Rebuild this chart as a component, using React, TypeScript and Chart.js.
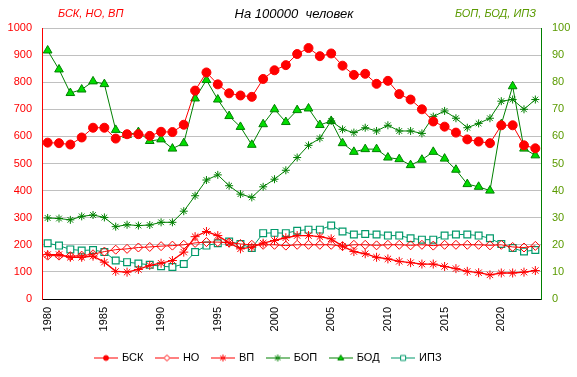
import React, { useEffect, useRef } from 'react';
import { Chart, registerables } from 'chart.js';

Chart.register(...registerables);

const years = [
  '1980', '1981', '1982', '1983', '1984', '1985', '1986', '1987', '1988', '1989',
  '1990', '1991', '1992', '1993', '1994', '1995', '1996', '1997', '1998', '1999',
  '2000', '2001', '2002', '2003', '2004', '2005', '2006', '2007', '2008', '2009',
  '2010', '2011', '2012', '2013', '2014', '2015', '2016', '2017', '2018', '2019',
  '2020', '2021', '2022', '2023',
];

// left axis (per 100000)
const bsk = [
  577, 575, 570, 596, 632, 632, 592, 608, 608, 602,
  617, 616, 643, 769, 836, 792, 759, 751, 746, 812,
  844, 863, 904, 926, 896, 906, 861, 827, 831, 794,
  805, 756, 736, 700, 655, 636, 614, 589, 581, 575,
  641, 641, 567, 556,
];
const no = [
  160, 160, 158, 160, 165, 175, 182, 185, 190, 192,
  195, 197, 200, 207, 210, 210, 208, 203, 200, 200,
  200, 197, 200, 200, 200, 200, 195, 200, 200, 198,
  200, 200, 198, 200, 197, 200, 200, 200, 200, 198,
  200, 192, 190, 196,
];
const vp = [
  164, 164, 154, 154, 158, 136, 102, 99, 109, 124,
  132, 142, 173, 230, 249, 234, 207, 185, 191, 206,
  216, 226, 234, 234, 230, 222, 195, 175, 167, 154,
  148, 139, 134, 129, 129, 120, 112, 102, 97, 89,
  96, 96, 99, 105,
];
// right axis
const bop = [
  29.9, 29.7, 29.2, 30.5, 31, 30.1, 26.7, 27.4, 27.1, 27.3,
  28.3, 28.3, 32.4, 38.1, 43.9, 45.8, 41.8, 38.7, 37.5, 41.4,
  44.2, 47.5, 52.2, 56.7, 59.3, 65.7, 62.6, 61.4, 63.2, 62,
  64.1, 62, 62, 61.1, 67.3, 69.4, 66.7, 63.2, 64.8, 66.7,
  73, 73.6, 70, 73.6,
];
const bod = [
  91.7, 84.7, 76, 77.3, 80.3, 79.3, 62.4, 60.5, 61.6, 58.3,
  58.9, 55.5, 57.5, 74, 80.8, 73.6, 67.5, 63.5, 56.9, 64.5,
  70, 65.3, 69.7, 70.3, 64.2, 65.7, 57.5, 54.3, 55.3, 55.3,
  52.2, 51.6, 49.4, 51.4, 54.3, 51.8, 47.7, 42.4, 41.4, 40,
  64.5, 78.5, 55.5, 53,
];
const ipz = [
  20.6, 19.7, 18.3, 17.9, 18.1, 17.3, 14.2, 13.6, 13.1, 12.6,
  12.1, 11.8, 12.9, 17.3, 19.7, 20.6, 21.2, 20.3, 18.8, 24.3,
  24.4, 24.3, 25.2, 25.6, 25.6, 27.1, 24.9, 23.8, 24, 23.8,
  23.4, 23.4, 22.4, 21.9, 21.9, 23.4, 23.8, 23.8, 23.4, 22.4,
  20.3, 18.8, 17.5, 18.1,
];

const titleText = 'На 100000  человек';
const leftTitle = 'БСК, НО, ВП';
const rightTitle = 'БОП, БОД, ИПЗ';

const RED = '#ff0000';
const GREEN = '#008000';
const TRI_FILL = '#00dd00';
const TEAL = '#00996a';
const RIGHT_TXT = '#5a9a00';
const FONT = "'Liberation Sans', Arial, sans-serif";

function makeIcon(color: string, kind: string, fill: string): HTMLCanvasElement {
  const c = document.createElement('canvas');
  c.width = 24;
  c.height = 12;
  const g = c.getContext('2d')!;
  g.strokeStyle = color;
  g.lineWidth = 1;
  g.beginPath();
  g.moveTo(0, 6.5);
  g.lineTo(24, 6.5);
  g.stroke();
  const x = 12, y = 6.5;
  g.fillStyle = fill;
  g.beginPath();
  if (kind === 'circle') {
    g.arc(x, y, 2.5, 0, Math.PI * 2);
    g.fill();
    g.stroke();
  } else if (kind === 'diamond') {
    g.moveTo(x, y - 3); g.lineTo(x + 3, y); g.lineTo(x, y + 3); g.lineTo(x - 3, y); g.closePath();
    g.fill();
    g.stroke();
  } else if (kind === 'star') {
    const r = 3.5;
    g.moveTo(x, y - r); g.lineTo(x, y + r);
    g.moveTo(x - r * 0.8, y - r * 0.6); g.lineTo(x + r * 0.8, y + r * 0.6);
    g.moveTo(x - r * 0.8, y + r * 0.6); g.lineTo(x + r * 0.8, y - r * 0.6);
    g.stroke();
  } else if (kind === 'triangle') {
    g.moveTo(x, y - 3); g.lineTo(x + 3, y + 2); g.lineTo(x - 3, y + 2); g.closePath();
    g.fill();
    g.stroke();
  } else if (kind === 'square') {
    g.rect(x - 2.5, y - 2.5, 5, 5);
    g.fill();
    g.stroke();
  }
  return c;
}

const titlesPlugin = {
  id: 'sideTitles',
  afterLayout(chart: any) {
    const lg = chart.legend;
    if (lg) {
      lg.left -= 20;
      lg.right -= 20;
    }
  },
  afterDraw(chart: any) {
    const ctx = chart.ctx as CanvasRenderingContext2D;
    ctx.save();
    ctx.textBaseline = 'middle';
    ctx.font = `italic 13px ${FONT}`;
    ctx.fillStyle = '#000';
    ctx.textAlign = 'center';
    ctx.fillText(titleText, 294, 14);
    ctx.font = `italic 11px ${FONT}`;
    ctx.fillStyle = RED;
    ctx.textAlign = 'left';
    ctx.fillText(leftTitle, 58, 14);
    ctx.fillStyle = RIGHT_TXT;
    ctx.textAlign = 'right';
    ctx.fillText(rightTitle, 536, 14);
    ctx.restore();
  },
};

export default function App() {
  const ref = useRef<HTMLCanvasElement>(null);
  useEffect(() => {
    document.body.style.margin = '0';
    const icons = [
      makeIcon(RED, 'circle', RED),
      makeIcon(RED, 'diamond', '#fff'),
      makeIcon(RED, 'star', RED),
      makeIcon(GREEN, 'star', GREEN),
      makeIcon(GREEN, 'triangle', TRI_FILL),
      makeIcon(TEAL, 'square', '#fff'),
    ];
    const chart = new Chart(ref.current!, {
      type: 'line',
      data: {
        labels: years,
        datasets: [
          {
            label: 'БСК', data: bsk, yAxisID: 'y', borderColor: RED, backgroundColor: RED,
            borderWidth: 1, pointStyle: 'circle', pointRadius: 4.5, pointBackgroundColor: RED,
            pointBorderColor: RED, pointBorderWidth: 1,
          },
          {
            label: 'НО', data: no, yAxisID: 'y', borderColor: RED, backgroundColor: RED,
            borderWidth: 1, pointStyle: 'rectRot', pointRadius: 4.5, pointBackgroundColor: 'rgba(255,255,255,0)',
            pointBorderColor: RED, pointBorderWidth: 1,
          },
          {
            label: 'ВП', data: vp, yAxisID: 'y', borderColor: RED, backgroundColor: RED,
            borderWidth: 1.3, pointStyle: 'star', pointRadius: 4.5,
            pointBorderColor: RED, pointBorderWidth: 1,
          },
          {
            label: 'БОП', data: bop, yAxisID: 'y1', borderColor: GREEN, backgroundColor: GREEN,
            borderWidth: 1, pointStyle: 'star', pointRadius: 4,
            pointBorderColor: GREEN, pointBorderWidth: 1,
          },
          {
            label: 'БОД', data: bod, yAxisID: 'y1', borderColor: GREEN, backgroundColor: TRI_FILL,
            borderWidth: 1, pointStyle: 'triangle', pointRadius: 5, pointBackgroundColor: TRI_FILL,
            pointBorderColor: GREEN, pointBorderWidth: 1,
          },
          {
            label: 'ИПЗ', data: ipz, yAxisID: 'y1', borderColor: TEAL, backgroundColor: '#fff',
            borderWidth: 1, pointStyle: 'rect', pointRadius: 4.8, pointBackgroundColor: '#fff',
            pointBorderColor: TEAL, pointBorderWidth: 1.2,
          },
        ],
      },
      options: {
        responsive: false,
        animation: false,
        devicePixelRatio: 1,
        layout: { padding: { top: 28, bottom: 4, left: 0, right: 0 } },
        elements: { line: { tension: 0 } },
        plugins: {
          title: { display: false },
          tooltip: { enabled: false },
          legend: {
            display: true,
            position: 'bottom',
            labels: {
              usePointStyle: true,
              pointStyleWidth: 21,
              padding: 13,
              color: '#000',
              font: { family: FONT, size: 11 },
              generateLabels: (ch: any) =>
                ch.data.datasets.map((ds: any, i: number) => ({
                  text: ds.label,
                  pointStyle: icons[i],
                  fillStyle: ds.borderColor,
                  strokeStyle: ds.borderColor,
                  lineWidth: 0,
                  hidden: false,
                  datasetIndex: i,
                  fontColor: '#000',
                })),
            },
          },
        },
        scales: {
          x: {
            type: 'category',
            offset: true,
            grid: { display: false, drawTicks: false },
            border: { display: true, color: '#000', width: 1 },
            ticks: {
              autoSkip: false,
              minRotation: 90,
              maxRotation: 90,
              padding: 8,
              color: '#000',
              font: { family: FONT, size: 11 },
              callback: function (_v: any, i: number) {
                const y = years[i];
                return Number(y) % 5 === 0 ? y : '';
              },
            },
            afterFit: (s: any) => { s.height = 40; },
          },
          y: {
            position: 'left',
            min: 0,
            max: 1000,
            grid: { color: '#c0c0c0', drawTicks: false, lineWidth: 1 },
            border: { display: true, color: RED, width: 1 },
            ticks: {
              stepSize: 100, padding: 10, color: RED, font: { family: FONT, size: 11 },
              callback: (v: any) => String(v),
            },
            afterFit: (s: any) => { s.width = 42; },
          },
          y1: {
            position: 'right',
            min: 0,
            max: 100,
            grid: { drawOnChartArea: false, drawTicks: false },
            border: { display: true, color: GREEN, width: 1 },
            ticks: {
              stepSize: 10, padding: 11, color: RIGHT_TXT, font: { family: FONT, size: 11 },
              callback: (v: any) => String(v),
            },
            afterFit: (s: any) => { s.width = 36; },
          },
        },
      },
      plugins: [titlesPlugin],
    } as any);
    return () => chart.destroy();
  }, []);
  return (
    <div style={{ width: 577, height: 377 }}>
      <canvas ref={ref} width={577} height={377} style={{ display: 'block' }} />
    </div>
  );
}
